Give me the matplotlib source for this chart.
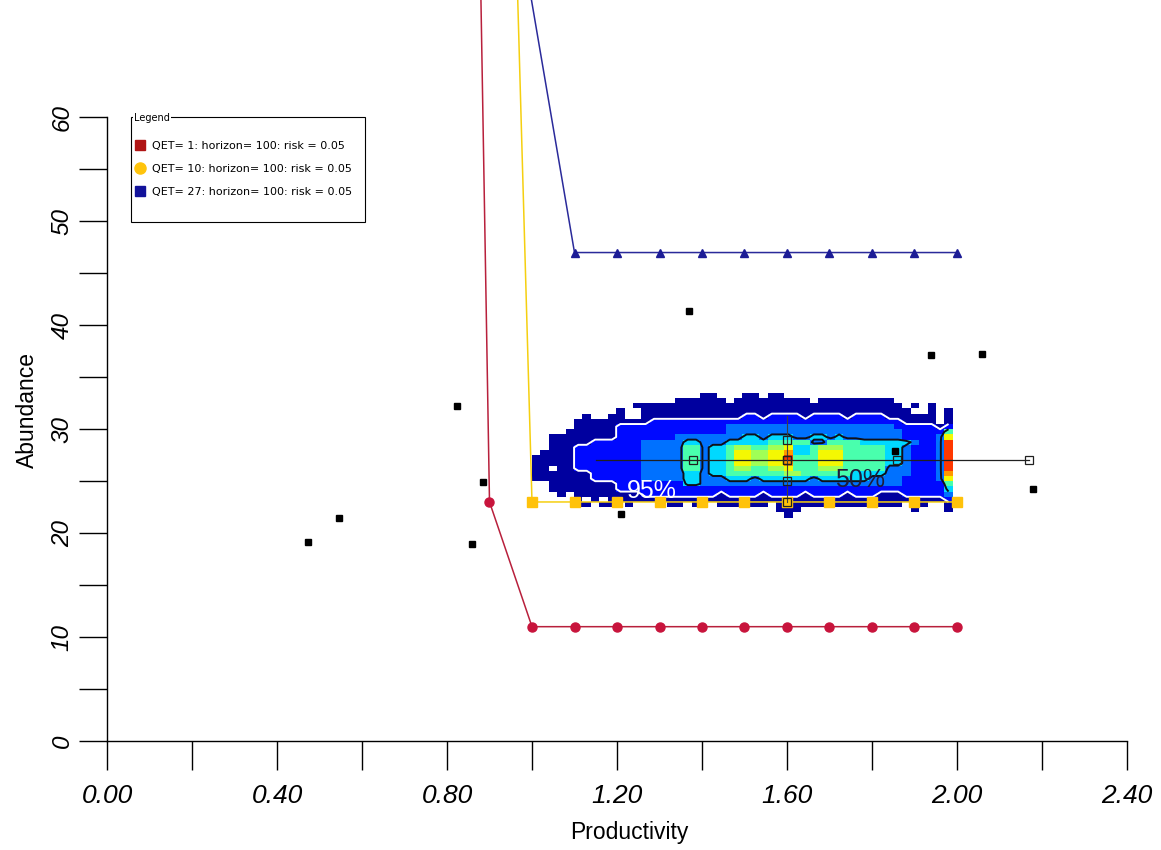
import numpy as np
import matplotlib
matplotlib.use("Agg")
import matplotlib.pyplot as plt
from matplotlib.lines import Line2D
from matplotlib.patches import Rectangle

# ---- frontier curves (QET levels) ----
red_x = [0.87, 0.90, 1.0, 1.1, 1.2, 1.3, 1.4, 1.5, 1.6, 1.7, 1.8, 1.9, 2.0]
red_y = [95, 23, 11, 11, 11, 11, 11, 11, 11, 11, 11, 11, 11]
yel_x = [0.95, 1.0, 1.1, 1.2, 1.3, 1.4, 1.5, 1.6, 1.7, 1.8, 1.9, 2.0]
yel_y = [95, 23, 23, 23, 23, 23, 23, 23, 23, 23, 23, 23]
blu_x = [0.90, 1.1, 1.2, 1.3, 1.4, 1.5, 1.6, 1.7, 1.8, 1.9, 2.0]
blu_y = [95, 47, 47, 47, 47, 47, 47, 47, 47, 47, 47]

# ---- observed points ----
obs_x = [0.474, 0.547, 0.823, 0.884, 0.858, 1.369, 1.209, 1.939, 2.059, 2.179, 1.855]
obs_y = [19.1, 21.45, 32.25, 24.9, 18.95, 41.4, 21.8, 37.1, 37.2, 24.2, 27.95]

# ---- summary cross (mean / quantiles) ----
cross_h = [1.15, 2.17]
cross_h_marks = [1.38, 1.60, 1.86, 2.17]
cross_y = 27
cross_x = 1.60
cross_v = [23, 31.3]
cross_v_marks = [23, 25, 27, 29]

# ---- posterior density (relative levels), top row first ----
dens_x_edges = np.linspace(1.0, 1.99, 51)
dens_y_edges = np.arange(21.5, 34.0, 0.5)
dens_rows = [
    "00000000000000000000110001101100000000000000000000",  # 33.0
    "00000000000000000111111011111111101111111110000000",  # 32.5
    "00000000000011111111111111111111111111111111010100",  # 32.0
    "00000000001001111111111111111111111111111111100101",  # 31.5
    "00000010011001111111111112212222122221222211111101",  # 31.0
    "00000111111111222222222222222222222222222222111101",  # 30.5
    "00000111112222222222222333333333333333333332222212",  # 30.0
    "00001111112222222222222333333333333333333333222225",  # 29.5
    "00111111112222222333333334434443344343333333222237",  # 29.0
    "00111112222223333344333444445555533555544444432239",  # 28.5
    "00111222222223333355344566556674456665555544322239",  # 28.0
    "01111222222223333355344577667784457775555544322239",  # 27.5
    "11111222222223333355344577667795557775555544322239",  # 27.0
    "11111222222223333355344577667785557775555544322239",  # 26.5
    "11011222222223333355344566556675556665555533322239",  # 26.0
    "11111112222223333344344555555566555555444433322238",  # 25.5
    "11111112222223333344333444344444434444443333222237",  # 25.0
    "00111111112222222244333333333333333333333333222225",  # 24.5
    "00111111112222222222222222222222222222222222222224",  # 24.0
    "00010111111112222222221222212222122221222111222223",  # 23.5
    "00000101011111111111111111111111111111111111111112",  # 23.0
    "00000110110100001101001111110111111111111111001001",  # 22.5
    "00000000000000000000000000000111000000000000010001",  # 22.0
    "00000000000000000000000000000010000000000000000000",  # 21.5
]

legend_labels = ["QET= 1: horizon= 100: risk = 0.05",
                 "QET= 10: horizon= 100: risk = 0.05",
                 "QET= 27: horizon= 100: risk = 0.05"]

dens = np.array([[int(c) for c in r] for r in dens_rows], dtype=float)[::-1]

fig = plt.figure(figsize=(11.61, 8.5), dpi=100)
ax = fig.add_axes([107 / 1161, 109 / 850, 1020 / 1161, 741 / 850])
ax.set_xlim(0, 2.4)
ax.set_ylim(0, 71.3)

# heatmap
cmap = plt.get_cmap("jet").copy()
cmap.set_bad("white", 0)
ax.pcolormesh(dens_x_edges, dens_y_edges, np.ma.masked_equal(dens, 0),
              cmap=cmap, vmin=0.7, vmax=10.45, shading="flat", zorder=1)
cx = 0.5 * (dens_x_edges[1:] + dens_x_edges[:-1])
cy = 0.5 * (dens_y_edges[1:] + dens_y_edges[:-1])
ax.contour(cx, cy, dens, levels=[1.5], colors="white", linewidths=1.4, zorder=2)
ax.contour(cx, cy, dens, levels=[3.5], colors="#101018", linewidths=1.4, zorder=2)
ax.text(1.282, 24.1, "95%", color="white", fontsize=18, ha="center", va="center",
        family="Liberation Sans", zorder=3)
ax.text(1.772, 25.1, "50%", color="#1c1c3c", fontsize=18, ha="center", va="center",
        family="Liberation Sans", zorder=3)

# frontier lines
ax.plot(red_x, red_y, color="#b8203c", lw=1.1, marker="o", ms=6.5,
        mfc="#c8143c", mec="#c8143c", zorder=4)
ax.plot(yel_x, yel_y, color="#f5cf10", lw=1.1, marker="s", ms=6.5,
        mfc="#ffc20a", mec="#ffc20a", zorder=4)
ax.plot(blu_x, blu_y, color="#2a2a9a", lw=1.1, marker="^", ms=5.5,
        mfc="#1c1c96", mec="#1c1c96", zorder=4)

# summary cross
ax.plot(cross_h, [cross_y, cross_y], color="#202020", lw=0.9, zorder=5)
ax.plot([cross_x, cross_x], cross_v, color="#404040", lw=0.8, zorder=5)
ax.plot(cross_h_marks, [cross_y] * len(cross_h_marks), ls="none", marker="s", ms=6,
        mfc="none", mec="#202020", mew=0.9, zorder=6)
ax.plot([cross_x] * len(cross_v_marks), cross_v_marks, ls="none", marker="s", ms=6,
        mfc="none", mec="#202020", mew=0.9, zorder=6)

# observations
ax.plot(obs_x, obs_y, ls="none", marker="s", ms=5, mfc="black", mec="black", zorder=6)

# axes styling
for s in ["top", "right"]:
    ax.spines[s].set_visible(False)
ax.spines["left"].set_bounds(0, 60)
ax.spines["bottom"].set_bounds(0, 2.4)
ax.spines["left"].set_linewidth(1.0)
ax.spines["bottom"].set_linewidth(1.0)

ax.set_xticks(np.arange(0, 2.41, 0.4))
ax.set_xticks(np.arange(0, 2.41, 0.2), minor=True)
ax.set_xticklabels(["0.00", "0.40", "0.80", "1.20", "1.60", "2.00", "2.40"],
                   fontsize=19, style="italic", family="Liberation Sans")
ax.set_yticks(np.arange(0, 61, 10))
ax.set_yticks(np.arange(0, 61, 5), minor=True)
ax.set_yticklabels([str(v) for v in range(0, 61, 10)], fontsize=17.5, style="italic",
                   family="Liberation Sans", rotation=90, va="center")
ax.tick_params(axis="x", which="both", direction="out", length=21, width=1.0, pad=10)
ax.tick_params(axis="y", which="both", direction="out", length=20, width=1.0, pad=4)

fig.text(27 / 1161, 1 - 410 / 850, "Abundance", rotation=90, ha="center", va="center",
         fontsize=16.5, family="Liberation Sans")
fig.text(629 / 1161, 1 - 833 / 850, "Productivity", ha="center", va="center",
         fontsize=16.5, family="Liberation Sans")

# legend (group box style)
handles = [Line2D([], [], ls="none", marker="s", ms=7, mfc="#b01414", mec="#b01414"),
           Line2D([], [], ls="none", marker="o", ms=8, mfc="#ffc40c", mec="#ffc40c"),
           Line2D([], [], ls="none", marker="s", ms=7, mfc="#12129a", mec="#12129a")]
fig.add_artist(Rectangle((131 / 1161, 1 - 222 / 850), 234 / 1161, 105 / 850,
                         transform=fig.transFigure, fill=False, ec="black", lw=0.8))
fig.text(134 / 1161, 1 - 118 / 850, "Legend", fontsize=7, family="DejaVu Sans",
         ha="left", va="center", bbox=dict(fc="white", ec="none", pad=0.6))
leg = fig.legend(handles, legend_labels, loc="upper left",
                 bbox_to_anchor=(135 / 1161, 1 - 141 / 850), frameon=False,
                 borderpad=0, borderaxespad=0, handlelength=0.9, handletextpad=0.6,
                 labelspacing=1.15, prop={"family": "DejaVu Sans", "size": 8})

fig.savefig("out.png", dpi=100, facecolor="white")
